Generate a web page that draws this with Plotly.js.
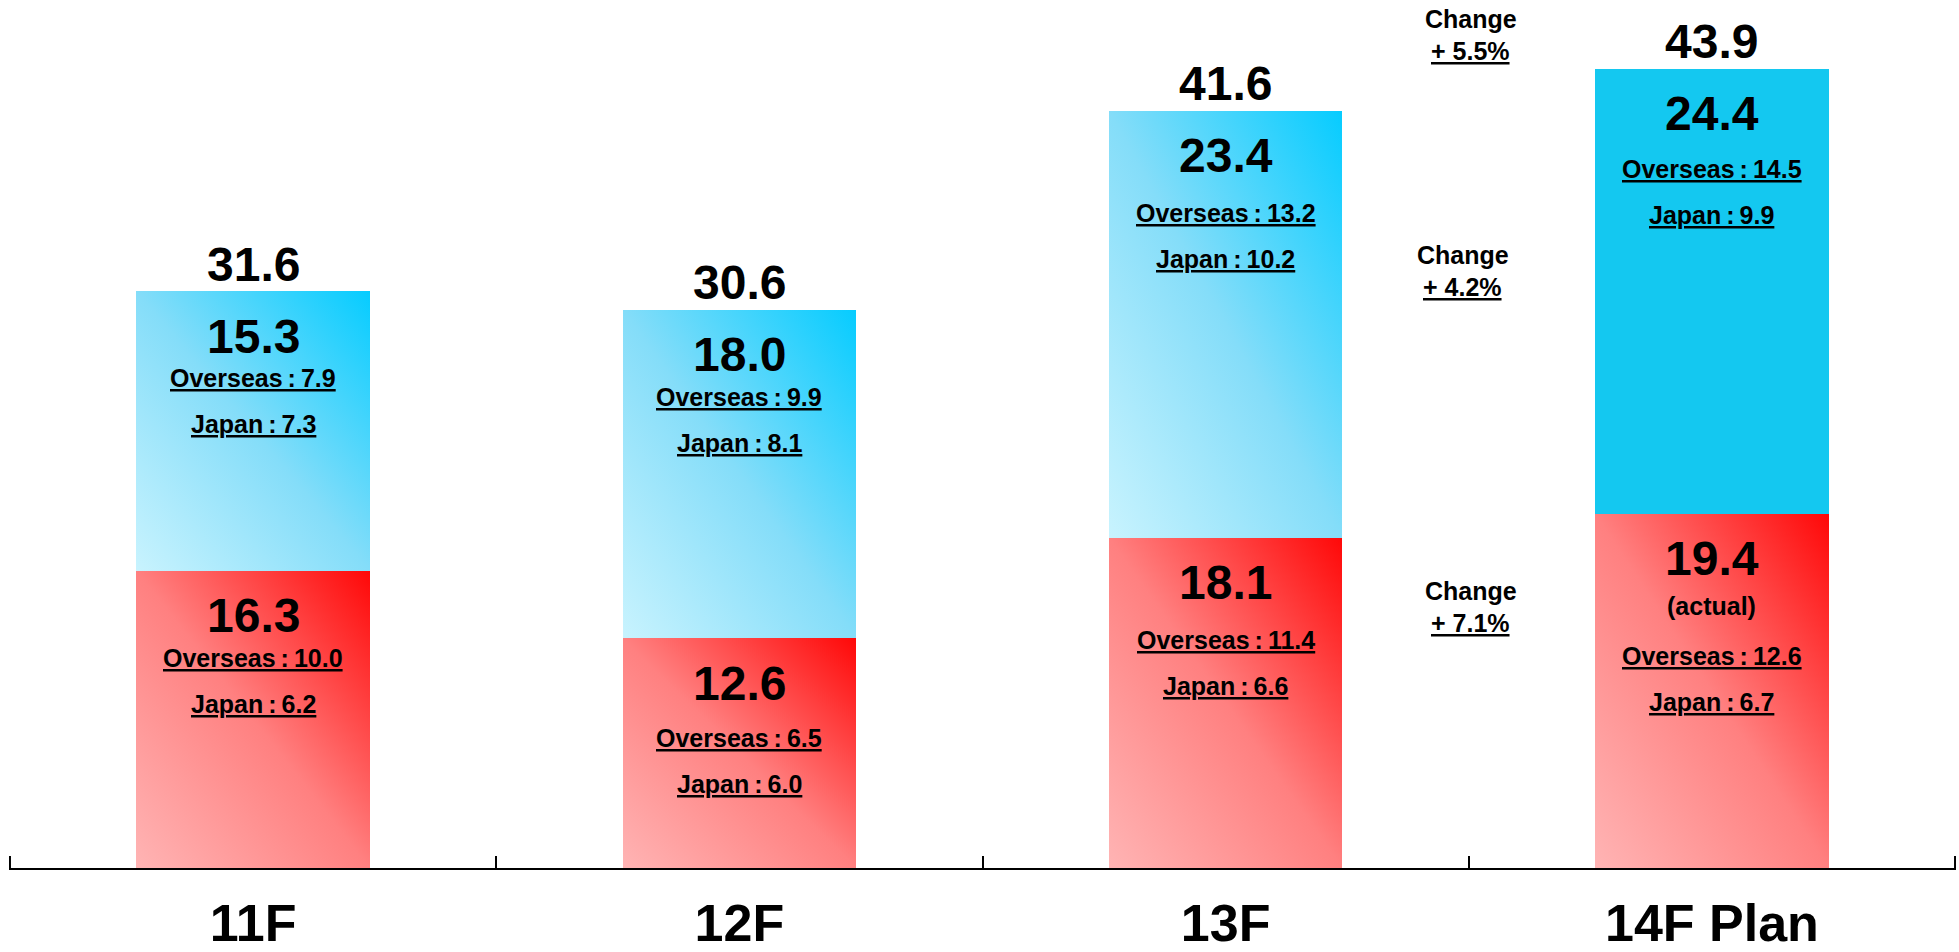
<!DOCTYPE html>
<html>
<head>
<meta charset="utf-8">
<script src="https://cdn.plot.ly/plotly-3.0.1.min.js"></script>
<style>html,body{margin:0;padding:0;background:#fff;}</style>
</head>
<body>
<div id="chart" style="width:1959px;height:952px;"></div>
<script>
// ---- data ----
const categories   = ['11F', '12F', '13F', '14F Plan'];
const redValues    = [16.3, 12.6, 18.1, 19.4];
const redOverseas  = [10.0, 6.5, 11.4, 12.6];
const redJapan     = [6.2, 6.0, 6.6, 6.7];
const redNotes     = ['', '', '', '(actual)'];
const blueValues   = [15.3, 18.0, 23.4, 24.4];
const blueOverseas = [7.9, 9.9, 13.2, 14.5];
const blueJapan    = [7.3, 8.1, 10.2, 9.9];
const totalLabels  = [31.6, 30.6, 41.6, 43.9];
const changeLabels = ['+ 5.5%', '+ 4.2%', '+ 7.1%'];
const changeY      = [46.5, 33.6, 15.2];

// ---- style ----
const FONT = 'Liberation Sans, Arial, Helvetica, sans-serif';
const blueSolid = '#14C8F0';
const blueGap = [42, 42, 57, 55];   // px from big number to Overseas line
const redGap  = [42, 55, 57, 55];
const changeXShift = [2, -6, 2];

const blueColors = categories.map((c, i) => i === categories.length - 1 ? blueSolid : '#7FDBF8');

const traces = [
  {type: 'bar', x: categories, y: redValues, marker: {color: '#FF7070', line: {width: 0}},
   hoverinfo: 'skip', showlegend: false},
  {type: 'bar', x: categories, y: blueValues, marker: {color: blueColors, line: {width: 0}},
   hoverinfo: 'skip', showlegend: false}
];

const ann = [];
function add(x, y, text, size, yshift, under, xshift) {
  ann.push({x: x, y: y, xref: 'x', yref: 'y', text: '<b>' + text + '</b>', showarrow: false,
    xanchor: 'center', yanchor: 'middle', yshift: yshift, xshift: xshift || 0,
    font: {family: FONT, size: size, color: '#000', lineposition: under ? 'under' : 'none'}});
}
const sep = '\u2009:\u2009';
categories.forEach((c, i) => {
  const redTop = redValues[i];
  const blueTop = redValues[i] + blueValues[i];
  add(c, blueTop, totalLabels[i].toFixed(1), 48, 27, false);
  add(c, blueTop, blueValues[i].toFixed(1), 48, -45, false);
  add(c, blueTop, 'Overseas' + sep + blueOverseas[i].toFixed(1), 25, -45 - blueGap[i], true);
  add(c, blueTop, 'Japan' + sep + blueJapan[i].toFixed(1), 25, -45 - blueGap[i] - 46, true);
  add(c, redTop, redValues[i].toFixed(1), 48, -45, false);
  let extra = 0;
  if (redNotes[i]) {
    add(c, redTop, redNotes[i], 25, -92, false);
    extra = 42;
  }
  add(c, redTop, 'Overseas' + sep + redOverseas[i].toFixed(1), 25, -45 - redGap[i] - extra, true);
  add(c, redTop, 'Japan' + sep + redJapan[i].toFixed(1), 25, -45 - redGap[i] - 46 - extra, true);
});
changeLabels.forEach((t, k) => {
  add(2.5, changeY[k], 'Change', 25, 0, false, changeXShift[k]);
  add(2.5, changeY[k], t, 25, -32, true, changeXShift[k]);
});

// edge ticks at the outer category boundaries (inner ones come from the axis)
const edgeTicks = [-0.5, categories.length - 0.5].map(xv => ({
  type: 'line', xref: 'x', yref: 'paper', x0: xv, x1: xv,
  ysizemode: 'pixel', yanchor: 0, y0: 0, y1: 12,
  line: {color: '#000', width: 2}
}));

const layout = {
  width: 1959, height: 952,
  margin: {l: 9, r: 3, t: 0, b: 84, pad: 0},
  paper_bgcolor: '#fff', plot_bgcolor: '#fff',
  barmode: 'stack', bargap: 0.52,
  showlegend: false,
  font: {family: FONT, color: '#000'},
  xaxis: {
    type: 'category', range: [-0.502, 3.502], fixedrange: true,
    tickson: 'boundaries', ticks: 'inside', ticklen: 12, tickwidth: 2, tickcolor: '#000',
    showline: true, linecolor: '#000', linewidth: 2, showgrid: false, zeroline: false,
    tickfont: {family: FONT, size: 52, color: '#000', weight: 'bold'},
    ticklabelstandoff: 9
  },
  yaxis: {range: [0, 47.56], visible: false, showgrid: false, zeroline: false, fixedrange: true},
  shapes: edgeTicks,
  annotations: ann
};

Plotly.newPlot('chart', traces, layout, {staticPlot: true, displayModeBar: false}).then(gd => {
  const svg = gd.querySelector('.main-svg');
  const defs = svg.querySelector('defs') || svg.insertBefore(document.createElementNS('http://www.w3.org/2000/svg', 'defs'), svg.firstChild);
  function grad(id, light, mid, dark) {
    const ns = 'http://www.w3.org/2000/svg';
    const g = document.createElementNS(ns, 'linearGradient');
    g.setAttribute('id', id);
    g.setAttribute('x1', '0'); g.setAttribute('y1', '1');
    g.setAttribute('x2', '1'); g.setAttribute('y2', '0');
    [[0, light], [0.5, mid], [1, dark]].forEach(([o, c]) => {
      const s = document.createElementNS(ns, 'stop');
      s.setAttribute('offset', o); s.setAttribute('stop-color', c);
      g.appendChild(s);
    });
    defs.appendChild(g);
  }
  grad('gradRed', '#FFB4B4', '#FF8080', '#FF0808');
  grad('gradBlue', '#C8F3FE', '#84DDF9', '#06CCFF');
  const tr = gd.querySelectorAll('.barlayer .trace');
  tr.forEach((t, ti) => {
    t.querySelectorAll('.point path').forEach((p, pi) => {
      if (ti === 0) p.style.fill = 'url(#gradRed)';
      else if (pi < categories.length - 1) p.style.fill = 'url(#gradBlue)';
    });
  });
});
</script>
</body>
</html>
